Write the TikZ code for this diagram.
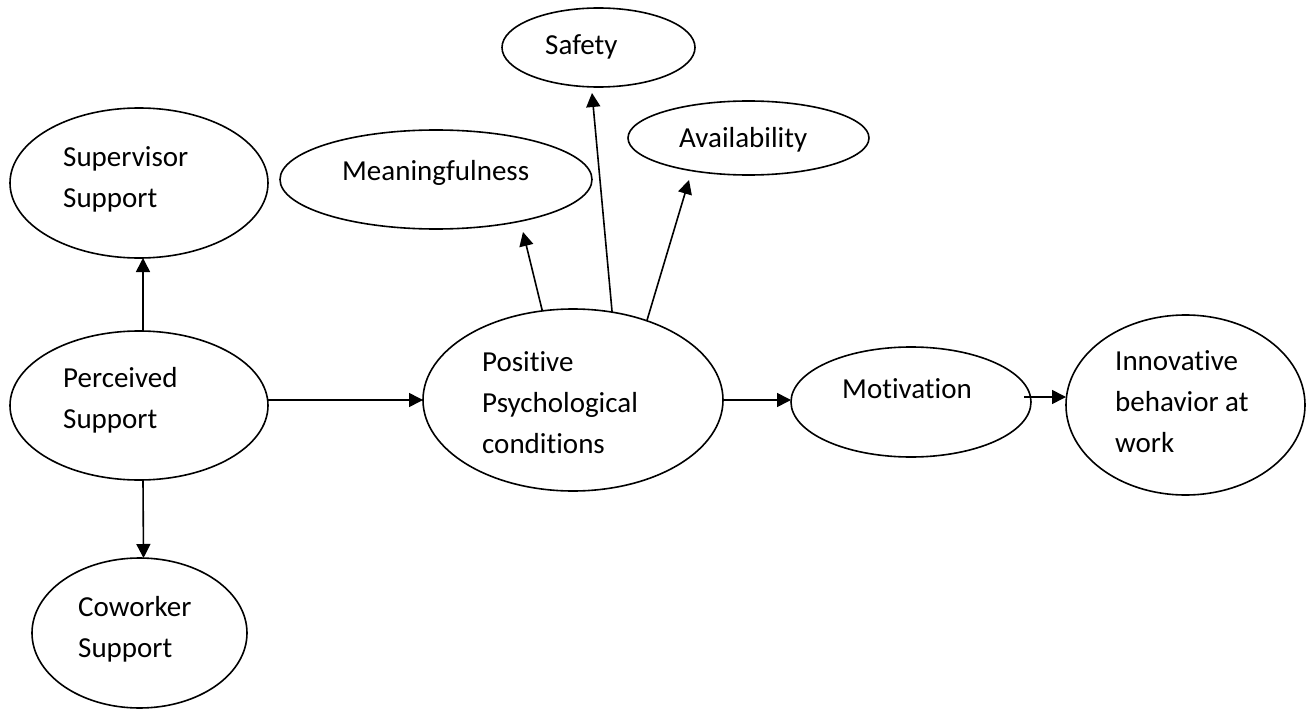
\documentclass[tikz,border=0pt]{standalone}
\usepackage{fontspec}
\setmainfont{Carlito}[Ligatures=NoCommon]
\usetikzlibrary{shapes.geometric,arrows.meta}
\begin{document}
\begin{tikzpicture}[x=1pt,y=-1pt,
  bub/.style={draw, ellipse, line width=1.6pt, inner sep=0pt, outer sep=0pt},
  lbl/.style={anchor=base west, inner sep=0pt, align=left, font=\fontsize{29}{41}\selectfont},
  arr/.style={line width=1.6pt, -{Triangle[length=14pt,width=14pt]}}]
\useasboundingbox (0,0) rectangle (1310,709);
% ellipses
\node[bub, minimum width=258, minimum height=150] (sup) at (139,183) {};
\node[bub, minimum width=258, minimum height=149] (perc) at (139,405.5) {};
\node[bub, minimum width=215, minimum height=150] (cow) at (139.5,633) {};
\node[bub, minimum width=312, minimum height=99] (mean) at (436,179.5) {};
\node[bub, minimum width=193, minimum height=79] (safe) at (598.5,47.5) {};
\node[bub, minimum width=241, minimum height=74] (avail) at (748.5,138) {};
\node[bub, minimum width=300, minimum height=182] (pos) at (573,400) {};
\node[bub, minimum width=240, minimum height=110] (mot) at (911,402) {};
\node[bub, minimum width=239, minimum height=180] (inn) at (1185.5,405) {};
% texts (multi-line: anchor at baseline of last line)
\node[lbl] (supT) at (63,207) {Supervisor\\Support};
\node[lbl] (percT) at (63,428) {Perceived\\Support};
\node[lbl] (cowT) at (78,657) {Coworker\\Support};
\node[lbl] (meanT) at (342,180) {Meaningfulness};
\node[lbl] (safeT) at (545,55) {Safety};
\node[lbl] (availT) at (679,147) {Availability};
\node[lbl] (posT) at (482,453) {Positive\\Psychological\\conditions};
\node[lbl] (motT) at (842,398) {Motivation};
\node[lbl] (innT) at (1115,452) {Innovative\\behavior at\\work};
% free arrow ends
\coordinate (meanTip) at (523,232);
\coordinate (safeTip) at (592,93);
\coordinate (availTip) at (689,180);
\coordinate (motOut) at (1024,397);
% connectors
\draw[arr] ([xshift=4pt]perc.north) -- ([xshift=4pt]sup.south);
\draw[arr] ([xshift=4pt]perc.south) -- ([xshift=4pt]cow.north);
\draw[arr] (perc.east |- pos.west) -- (pos.west);
\draw[arr] (pos.109) -- (meanTip);
\draw[arr] (pos.66) -- (safeTip);
\draw[arr] (pos.47) -- (availTip);
\draw[arr] (pos.east) -- (pos.east -| mot.west);
\draw[arr] (motOut) -- (motOut -| inn.west);
\end{tikzpicture}
\end{document}
